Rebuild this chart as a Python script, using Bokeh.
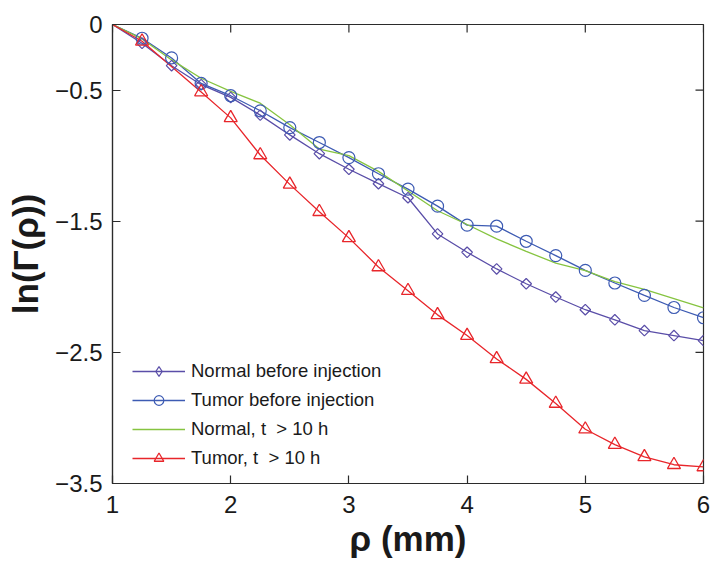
from bokeh.plotting import figure
from bokeh.models import (FixedTicker, CustomJSTickFormatter, Legend, LegendItem, Range1d)
from bokeh.embed import file_html
from bokeh.resources import INLINE
import numpy as np

# ---- data ----
rho = [1.0, 1.25, 1.5, 1.75, 2.0, 2.25, 2.5, 2.75, 3.0, 3.25, 3.5,
       3.75, 4.0, 4.25, 4.5, 4.75, 5.0, 5.25, 5.5, 5.75, 6.0]
normal_before = [0.0, -0.143, -0.314, -0.459, -0.556, -0.691, -0.842, -0.985, -1.104, -1.214, -1.321,
                 -1.597, -1.737, -1.864, -1.977, -2.078, -2.175, -2.252, -2.334, -2.372, -2.41]
tumor_before = [0.0, -0.105, -0.255, -0.449, -0.543, -0.658, -0.786, -0.90, -1.015, -1.138, -1.255,
                -1.385, -1.530, -1.538, -1.653, -1.762, -1.875, -1.971, -2.066, -2.158, -2.236]
normal_after = [0.0, -0.11, -0.27, -0.41, -0.51, -0.60, -0.765, -0.95, -1.0, -1.12, -1.27,
                -1.42, -1.525, -1.635, -1.73, -1.82, -1.877, -1.96, -2.02, -2.09, -2.16]
rho_tumor_after = [1.0, 1.25, 1.75, 2.0, 2.25, 2.5, 2.75, 3.0, 3.25, 3.5,
                   3.75, 4.0, 4.25, 4.5, 4.75, 5.0, 5.25, 5.5, 5.75, 6.0]
tumor_after = [0.0, -0.128, -0.515, -0.712, -0.995, -1.219, -1.428, -1.627, -1.849, -2.03,
               -2.214, -2.372, -2.55, -2.706, -2.89, -3.086, -3.203, -3.297, -3.357, -3.374]

x_ticks = [1, 2, 3, 4, 5, 6]
y_ticks = [0, -0.5, -1.5, -2.5, -3.5]
series_names = ["Normal before injection", "Tumor before injection",
                "Normal, t  > 10 h", "Tumor, t  > 10 h"]

FONT = "Liberation Sans"
C_NB = "#5a4ea8"
C_TB = "#3d5bb3"
C_NA = "#86c440"
C_TA = "#e8262b"
AX = "#2b2b2b"
TXT = "#1a1a1a"

xr = Range1d(1, 6)
yr = Range1d(-3.5, 0)
p = figure(width=716, height=563, output_backend="svg", toolbar_location=None,
           x_range=xr, y_range=yr,
           min_border_left=112, min_border_right=13, min_border_top=24, min_border_bottom=80)
p.grid.visible = False
p.outline_line_color = AX
p.outline_line_width = 1.2
p.background_fill_color = "white"
p.border_fill_color = "white"

yfmt = CustomJSTickFormatter(code="return tick == 0 ? '0' : '\u2212' + Math.abs(tick).toFixed(1);")

xa = p.xaxis[0]
ya = p.yaxis[0]
xa.ticker = FixedTicker(ticks=x_ticks)
ya.ticker = FixedTicker(ticks=y_ticks)
ya.formatter = yfmt
for ax in (xa, ya):
    ax.axis_line_color = AX
    ax.axis_line_width = 1.2
    ax.major_tick_line_color = AX
    ax.major_tick_line_width = 1.2
    ax.major_tick_in = 8
    ax.major_tick_out = 0
    ax.minor_tick_line_color = None
    ax.major_label_text_font = FONT
    ax.major_label_text_color = TXT
    ax.major_label_text_font_size = "24px"
    ax.axis_label_text_font = FONT
    ax.axis_label_text_font_size = "35px"
    ax.axis_label_text_font_style = "bold"
    ax.axis_label_text_color = TXT
xa.major_label_standoff = 12
ya.major_label_standoff = 10
xa.axis_label = "ρ (mm)"
ya.axis_label = "ln(Γ(ρ))"
xa.axis_label_standoff = 3
ya.axis_label_standoff = 7

# mirrored inward ticks on the top and right edges of the box
p.ray(x=x_ticks, y=[yr.end] * len(x_ticks), angle=-np.pi / 2, length=8,
      length_units="screen", line_color=AX, line_width=1.2)
p.ray(x=[xr.end] * len(y_ticks), y=y_ticks, angle=np.pi, length=8,
      length_units="screen", line_color=AX, line_width=1.2)

# lines
l_nb = p.line(rho, normal_before, line_color=C_NB, line_width=1.3)
l_tb = p.line(rho, tumor_before, line_color=C_TB, line_width=1.3)
l_na = p.line(rho, normal_after, line_color=C_NA, line_width=1.3)
l_ta = p.line(rho_tumor_after, tumor_after, line_color=C_TA, line_width=1.3)

# markers (no marker at the origin point)
m_nb = p.scatter(rho[1:], normal_before[1:], marker="square", angle=np.pi / 4, size=7.5,
                 fill_color=None, line_color=C_NB, line_width=1.2)
m_nb_key = p.scatter(rho[1:], normal_before[1:], marker="diamond", size=13,
                     fill_color=None, line_color=C_NB, line_width=1.2, visible=False)
m_tb = p.scatter(rho[1:], tumor_before[1:], marker="circle", size=12,
                 fill_color=None, line_color=C_TB, line_width=1.2)
m_ta = p.scatter(rho_tumor_after[1:], tumor_after[1:], marker="triangle", size=13,
                 fill_color=None, line_color=C_TA, line_width=1.3)

legend = Legend(items=[
    LegendItem(label=series_names[0], renderers=[l_nb, m_nb_key]),
    LegendItem(label=series_names[1], renderers=[l_tb, m_tb]),
    LegendItem(label=series_names[2], renderers=[l_na]),
    LegendItem(label=series_names[3], renderers=[l_ta, m_ta]),
], location=(20, 13))
legend.border_line_color = None
legend.background_fill_alpha = 0
legend.padding = 0
legend.margin = 0
legend.spacing = 5
legend.glyph_width = 53
legend.glyph_height = 24
legend.label_standoff = 6
legend.label_text_font = FONT
legend.label_text_font_size = "18.5px"
legend.label_text_color = TXT
legend.label_height = 24
p.add_layout(legend, "center")

open("out.html", "w").write(file_html(p, INLINE))
